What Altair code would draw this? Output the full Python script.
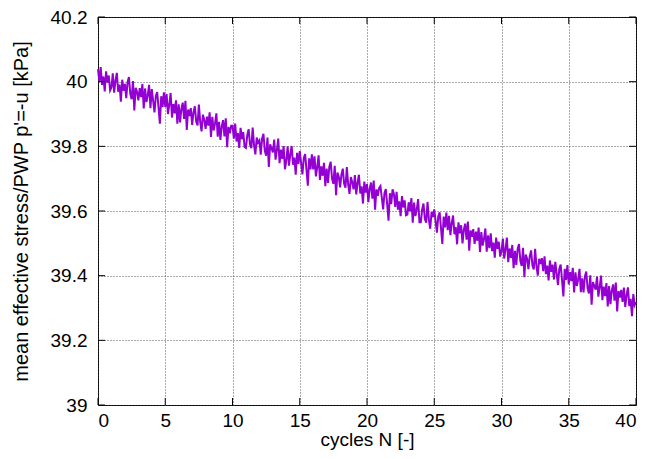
import altair as alt
import pandas as pd

p_mean = [
    40.039, 39.999, 40.045, 39.990, 40.016, 39.970, 40.032, 39.997, 40.019, 39.973,
    39.982, 40.026, 39.966, 40.003, 40.027, 39.969, 39.991, 39.938, 40.006, 39.972,
    39.993, 39.949, 39.999, 40.014, 39.962, 39.946, 40.002, 39.911, 39.981, 39.969,
    39.942, 39.980, 39.952, 39.993, 39.917, 39.979, 39.937, 39.958, 39.990, 39.918,
    39.977, 39.941, 39.905, 39.956, 39.968, 39.920, 39.870, 39.955, 39.921, 39.967,
    39.922, 39.962, 39.900, 39.929, 39.965, 39.889, 39.931, 39.902, 39.942, 39.870,
    39.930, 39.874, 39.916, 39.935, 39.885, 39.941, 39.851, 39.914, 39.894, 39.918,
    39.866, 39.906, 39.924, 39.877, 39.865, 39.929, 39.875, 39.846, 39.898, 39.882,
    39.854, 39.892, 39.864, 39.905, 39.829, 39.891, 39.849, 39.870, 39.902, 39.830,
    39.876, 39.820, 39.862, 39.881, 39.831, 39.887, 39.797, 39.860, 39.840, 39.864,
    39.864, 39.824, 39.870, 39.815, 39.841, 39.795, 39.857, 39.822, 39.844, 39.798,
    39.795, 39.835, 39.853, 39.806, 39.794, 39.858, 39.804, 39.775, 39.827, 39.811,
    39.818, 39.774, 39.824, 39.839, 39.787, 39.771, 39.827, 39.736, 39.806, 39.794,
    39.781, 39.821, 39.759, 39.788, 39.824, 39.748, 39.790, 39.761, 39.801, 39.729,
    39.756, 39.800, 39.740, 39.777, 39.801, 39.743, 39.765, 39.712, 39.780, 39.746,
    39.785, 39.749, 39.713, 39.764, 39.776, 39.728, 39.678, 39.763, 39.729, 39.775,
    39.729, 39.769, 39.707, 39.736, 39.772, 39.696, 39.738, 39.709, 39.749, 39.677,
    39.731, 39.687, 39.737, 39.752, 39.700, 39.684, 39.740, 39.649, 39.719, 39.707,
    39.673, 39.713, 39.731, 39.684, 39.672, 39.736, 39.682, 39.653, 39.705, 39.689,
    39.667, 39.711, 39.651, 39.688, 39.712, 39.654, 39.676, 39.623, 39.691, 39.657,
    39.683, 39.627, 39.669, 39.688, 39.638, 39.694, 39.604, 39.667, 39.647, 39.671,
    39.677, 39.641, 39.605, 39.656, 39.668, 39.620, 39.570, 39.655, 39.621, 39.667,
    39.653, 39.613, 39.659, 39.604, 39.630, 39.584, 39.646, 39.611, 39.633, 39.587,
    39.589, 39.627, 39.599, 39.640, 39.564, 39.626, 39.584, 39.605, 39.637, 39.565,
    39.565, 39.605, 39.623, 39.576, 39.564, 39.628, 39.574, 39.545, 39.597, 39.581,
    39.605, 39.569, 39.533, 39.584, 39.596, 39.548, 39.498, 39.583, 39.549, 39.595,
    39.541, 39.585, 39.525, 39.562, 39.586, 39.528, 39.550, 39.497, 39.565, 39.531,
    39.556, 39.500, 39.542, 39.561, 39.511, 39.567, 39.477, 39.540, 39.520, 39.544,
    39.498, 39.536, 39.508, 39.549, 39.473, 39.535, 39.493, 39.514, 39.546, 39.474,
    39.525, 39.485, 39.531, 39.476, 39.502, 39.456, 39.518, 39.483, 39.505, 39.459,
    39.475, 39.515, 39.453, 39.482, 39.518, 39.442, 39.484, 39.455, 39.495, 39.423,
    39.477, 39.433, 39.483, 39.498, 39.446, 39.430, 39.486, 39.395, 39.465, 39.453,
    39.420, 39.460, 39.478, 39.431, 39.419, 39.483, 39.429, 39.400, 39.452, 39.436,
    39.454, 39.414, 39.460, 39.405, 39.431, 39.385, 39.447, 39.412, 39.434, 39.388,
    39.443, 39.407, 39.371, 39.422, 39.434, 39.386, 39.336, 39.421, 39.387, 39.433,
    39.373, 39.411, 39.383, 39.424, 39.348, 39.410, 39.368, 39.389, 39.421, 39.349,
    39.392, 39.348, 39.398, 39.413, 39.361, 39.345, 39.401, 39.310, 39.380, 39.368,
    39.357, 39.397, 39.335, 39.364, 39.400, 39.324, 39.366, 39.337, 39.377, 39.305,
    39.368, 39.312, 39.354, 39.373, 39.323, 39.379, 39.289, 39.352, 39.332, 39.356,
    39.319, 39.363, 39.303, 39.340, 39.364, 39.306, 39.328, 39.275, 39.343, 39.309,
    39.318,
]
cycles = [round(i * 0.1, 1) for i in range(len(p_mean))]

x_ticks = [0, 5, 10, 15, 20, 25, 30, 35, 40]
y_ticks = [39.0, 39.2, 39.4, 39.6, 39.8, 40.0, 40.2]

W, H = 538, 388
TICK = 7
FONT = "Liberation Sans"

df = pd.DataFrame({"N": cycles, "p": p_mean})
xt = pd.DataFrame({"v": x_ticks})
yt = pd.DataFrame({"v": y_ticks})

xscale = alt.Scale(domain=[0, 40], nice=False, zero=False)
yscale = alt.Scale(domain=[39.0, 40.2], nice=False, zero=False)

line = alt.Chart(df).mark_line(color="#9400D3", strokeWidth=2).encode(
    x=alt.X("N:Q", scale=xscale, title="cycles N [-]",
            axis=alt.Axis(values=x_ticks, format="~g", grid=True, ticks=False,
                          labelPadding=6, titlePadding=0, domain=False,
                          titleFontSize=19)),
    y=alt.Y("p:Q", scale=yscale, title="mean effective stress/PWP p'=-u [kPa]",
            axis=alt.Axis(values=y_ticks, format="~g", grid=True, ticks=False,
                          labelPadding=11, titlePadding=19, domain=False,
                          titleFontSize=20)),
)

tick_style = dict(color="black", strokeWidth=1)
bottom_ticks = alt.Chart(xt).mark_rule(**tick_style).encode(
    x=alt.X("v:Q", scale=xscale), y=alt.value(H), y2=alt.value(H - TICK))
top_ticks = alt.Chart(xt).mark_rule(**tick_style).encode(
    x=alt.X("v:Q", scale=xscale), y=alt.value(0), y2=alt.value(TICK))
left_ticks = alt.Chart(yt).mark_rule(**tick_style).encode(
    y=alt.Y("v:Q", scale=yscale), x=alt.value(0), x2=alt.value(TICK))
right_ticks = alt.Chart(yt).mark_rule(**tick_style).encode(
    y=alt.Y("v:Q", scale=yscale), x=alt.value(W), x2=alt.value(W - TICK))

chart = alt.layer(line, bottom_ticks, top_ticks, left_ticks, right_ticks).properties(
    width=W, height=H,
    autosize=alt.AutoSizeParams(type="none"),
    padding={"left": 90, "top": 9, "right": 20, "bottom": 46},
    background="white",
).configure_view(
    stroke="black", strokeWidth=1,
).configure_axis(
    labelFont=FONT, labelFontSize=19, labelColor="black",
    titleFont=FONT, titleFontWeight="normal", titleColor="black",
    gridColor="#444444", gridDash=[1, 2], gridWidth=1, gridOpacity=0.9,
)

chart.save("out.html", embed_options={"renderer": "svg", "actions": False})
